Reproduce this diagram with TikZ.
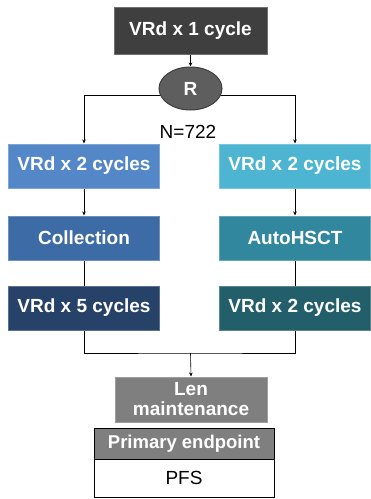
\documentclass[tikz,border=0pt]{standalone}
\usepackage{fontspec}
\setmainfont{Liberation Sans}
\usepackage{tikz}
\usetikzlibrary{arrows.meta, positioning, calc, shapes.geometric, backgrounds}
\definecolor{armGrey}{HTML}{3F3F3F}
\definecolor{randGrey}{HTML}{5E5E5E}
\definecolor{midGrey}{HTML}{7F7F7F}
\definecolor{blueA}{HTML}{5487C8}
\definecolor{blueB}{HTML}{3D6BA5}
\definecolor{blueC}{HTML}{264268}
\definecolor{tealA}{HTML}{4DB4D2}
\definecolor{tealB}{HTML}{31889E}
\definecolor{tealC}{HTML}{235E6B}

\begin{document}
\begin{tikzpicture}[x=1pt, y=-1pt, >={Stealth[length=4pt,width=3.5pt]},
  stepbox/.style={draw=#1!75!white, line width=1pt, fill=#1, text=white,
    minimum width=151pt, minimum height=44pt, inner sep=0pt,
    font=\fontsize{19}{20}\selectfont\bfseries, align=center},
  link/.style={draw=black, line width=0.6pt}]
  \useasboundingbox (0,0) rectangle (371,499);

  % Start and randomisation
  \node[stepbox=armGrey, minimum width=153pt, minimum height=47pt] (start) at (190.5,30.5) {VRd x 1 cycle};
  \node[ellipse, draw=armGrey, line width=1pt, fill=randGrey, text=white, minimum width=63pt, minimum height=43pt,
    font=\fontsize{19}{20}\selectfont\bfseries] (rand) at (190.5,88.5) {R};
  \node[font=\fontsize{19}{20}\selectfont, inner sep=0pt] (ncount) at (188,132) {N=722};

  % Arms
  \node[stepbox=blueA] (l1) at (84,166) {VRd x 2 cycles};
  \node[stepbox=blueB] (l2) at (84,238) {Collection};
  \node[stepbox=blueC] (l3) at (84,308) {VRd x 5 cycles};
  \node[stepbox=tealA] (r1) at (295,166) {VRd x 2 cycles};
  \node[stepbox=tealB] (r2) at (295,238) {AutoHSCT};
  \node[stepbox=tealC] (r3) at (295,308) {VRd x 2 cycles};

  % Maintenance and endpoint
  \node[stepbox=midGrey, minimum width=152pt, minimum height=45pt] (len) at (191,399.5) {Len\\maintenance};
  \node[draw=black, line width=1pt, fill=midGrey, text=white, minimum width=180pt, minimum height=31pt,
    inner sep=0pt, font=\fontsize{18.5}{20}\selectfont\bfseries] (endhead) at (184,443.5) {Primary endpoint};
  \node[draw=black, line width=1pt, fill=white, minimum width=180pt, minimum height=38pt,
    inner sep=0pt, font=\fontsize{19}{20}\selectfont] (endval) at (184,478) {PFS};

  % Connectors
  \coordinate (split) at (190.5,95.5);
  \coordinate (join) at (190.5,353);
  \draw[link, ->] (start) -- (rand);
  \begin{scope}[on background layer]
    \draw[link, ->] (split) -| (l1.north);
    \draw[link, ->] (split) -| (r1.north);
  \end{scope}
  \draw[link, ->] (l1) -- (l2);
  \draw[link, ->] (r1) -- (r2);
  \draw[link] (l2) -- (l3);
  \draw[link] (r2) -- (r3);
  \draw[link] (l3.south) |- (join) -| (r3.south);
  \draw[link, ->] (join) -- (len.north);
\end{tikzpicture}
\end{document}
